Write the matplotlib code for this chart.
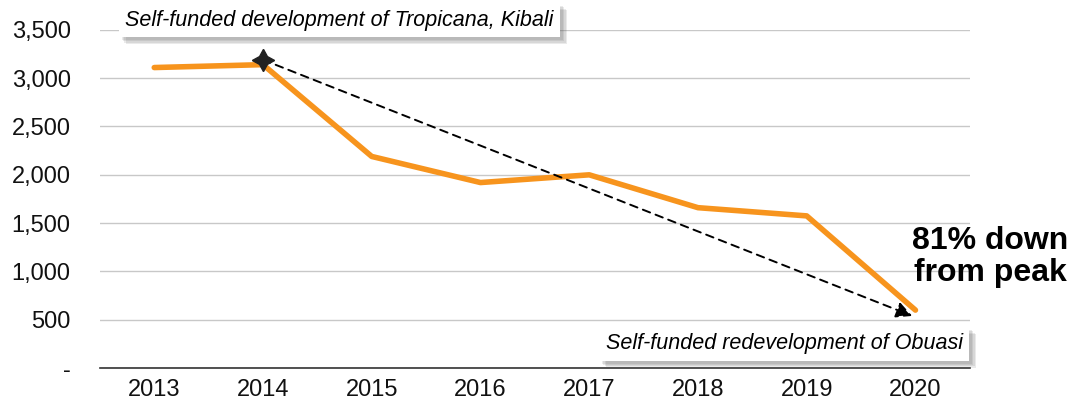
import matplotlib
matplotlib.use("Agg")
import matplotlib.pyplot as plt
import matplotlib.patheffects as pe
from matplotlib.ticker import FuncFormatter

plt.rcParams['font.family'] = ['Liberation Sans', 'DejaVu Sans']

years = ['2013', '2014', '2015', '2016', '2017', '2018', '2019', '2020']
values = [3110, 3140, 2190, 1920, 2000, 1660, 1575, 600]
peak_star = 3190
arrow_end = 540
yticks = [0, 500, 1000, 1500, 2000, 2500, 3000, 3500]

fig = plt.figure(figsize=(10.74, 4.09), dpi=100)
ax = fig.add_axes([0.093, 0.1, 0.81, 0.827])

x = list(range(len(years)))
ax.plot(x, values, color='#F7941D', lw=4, solid_capstyle='round', zorder=3)

# peak marker + trend arrow
ax.annotate('', xy=(6.97, arrow_end), xytext=(1, peak_star),
            arrowprops=dict(arrowstyle='-|>', ls=(0, (4, 3)), lw=1.4, color='black',
                            mutation_scale=24, shrinkA=0, shrinkB=0), zorder=4)
ax.plot([1], [peak_star], marker=(4, 1, 0), ms=16, color='#222222', zorder=5)

ax.set_xlim(-0.5, 7.5)
ax.set_ylim(0, 3500)
ax.set_xticks(x)
ax.set_xticklabels(years)
ax.set_yticks(yticks)
ax.yaxis.set_major_formatter(FuncFormatter(lambda v, p: '-' if v == 0 else f'{int(v):,}'))
ax.tick_params(axis='both', labelsize=17, length=0, colors='#111111')
ax.tick_params(axis='y', pad=21)
ax.tick_params(axis='x', pad=8)
ax.grid(axis='y', color='#C8C8C8', lw=1)
ax.set_axisbelow(True)
for s in ['top', 'right', 'left']:
    ax.spines[s].set_visible(False)
ax.spines['bottom'].set_color('#333333')
ax.spines['bottom'].set_linewidth(1.2)

shadow = [pe.withSimplePatchShadow(offset=(o, -o), shadow_rgbFace='#555555', alpha=0.12)
          for o in (5, 4, 3, 2)]
t1 = fig.text(0.316, 0.951, 'Self-funded development of Tropicana, Kibali', fontsize=15.5,
              style='italic', ha='center', va='center',
              bbox=dict(boxstyle='square,pad=0.3', fc='white', ec='none'))
t1.get_bbox_patch().set_path_effects(shadow + [pe.Normal()])
t2 = fig.text(0.730, 0.159, 'Self-funded redevelopment of Obuasi', fontsize=15.5,
              style='italic', ha='center', va='center',
              bbox=dict(boxstyle='square,pad=0.3', fc='white', ec='none'))
t2.get_bbox_patch().set_path_effects(shadow + [pe.Normal()])

fig.text(0.922, 0.372, '81% down\nfrom peak', fontsize=23, fontweight='bold',
         ha='center', va='center', linespacing=1.1)

fig.savefig('out.png', dpi=100)
